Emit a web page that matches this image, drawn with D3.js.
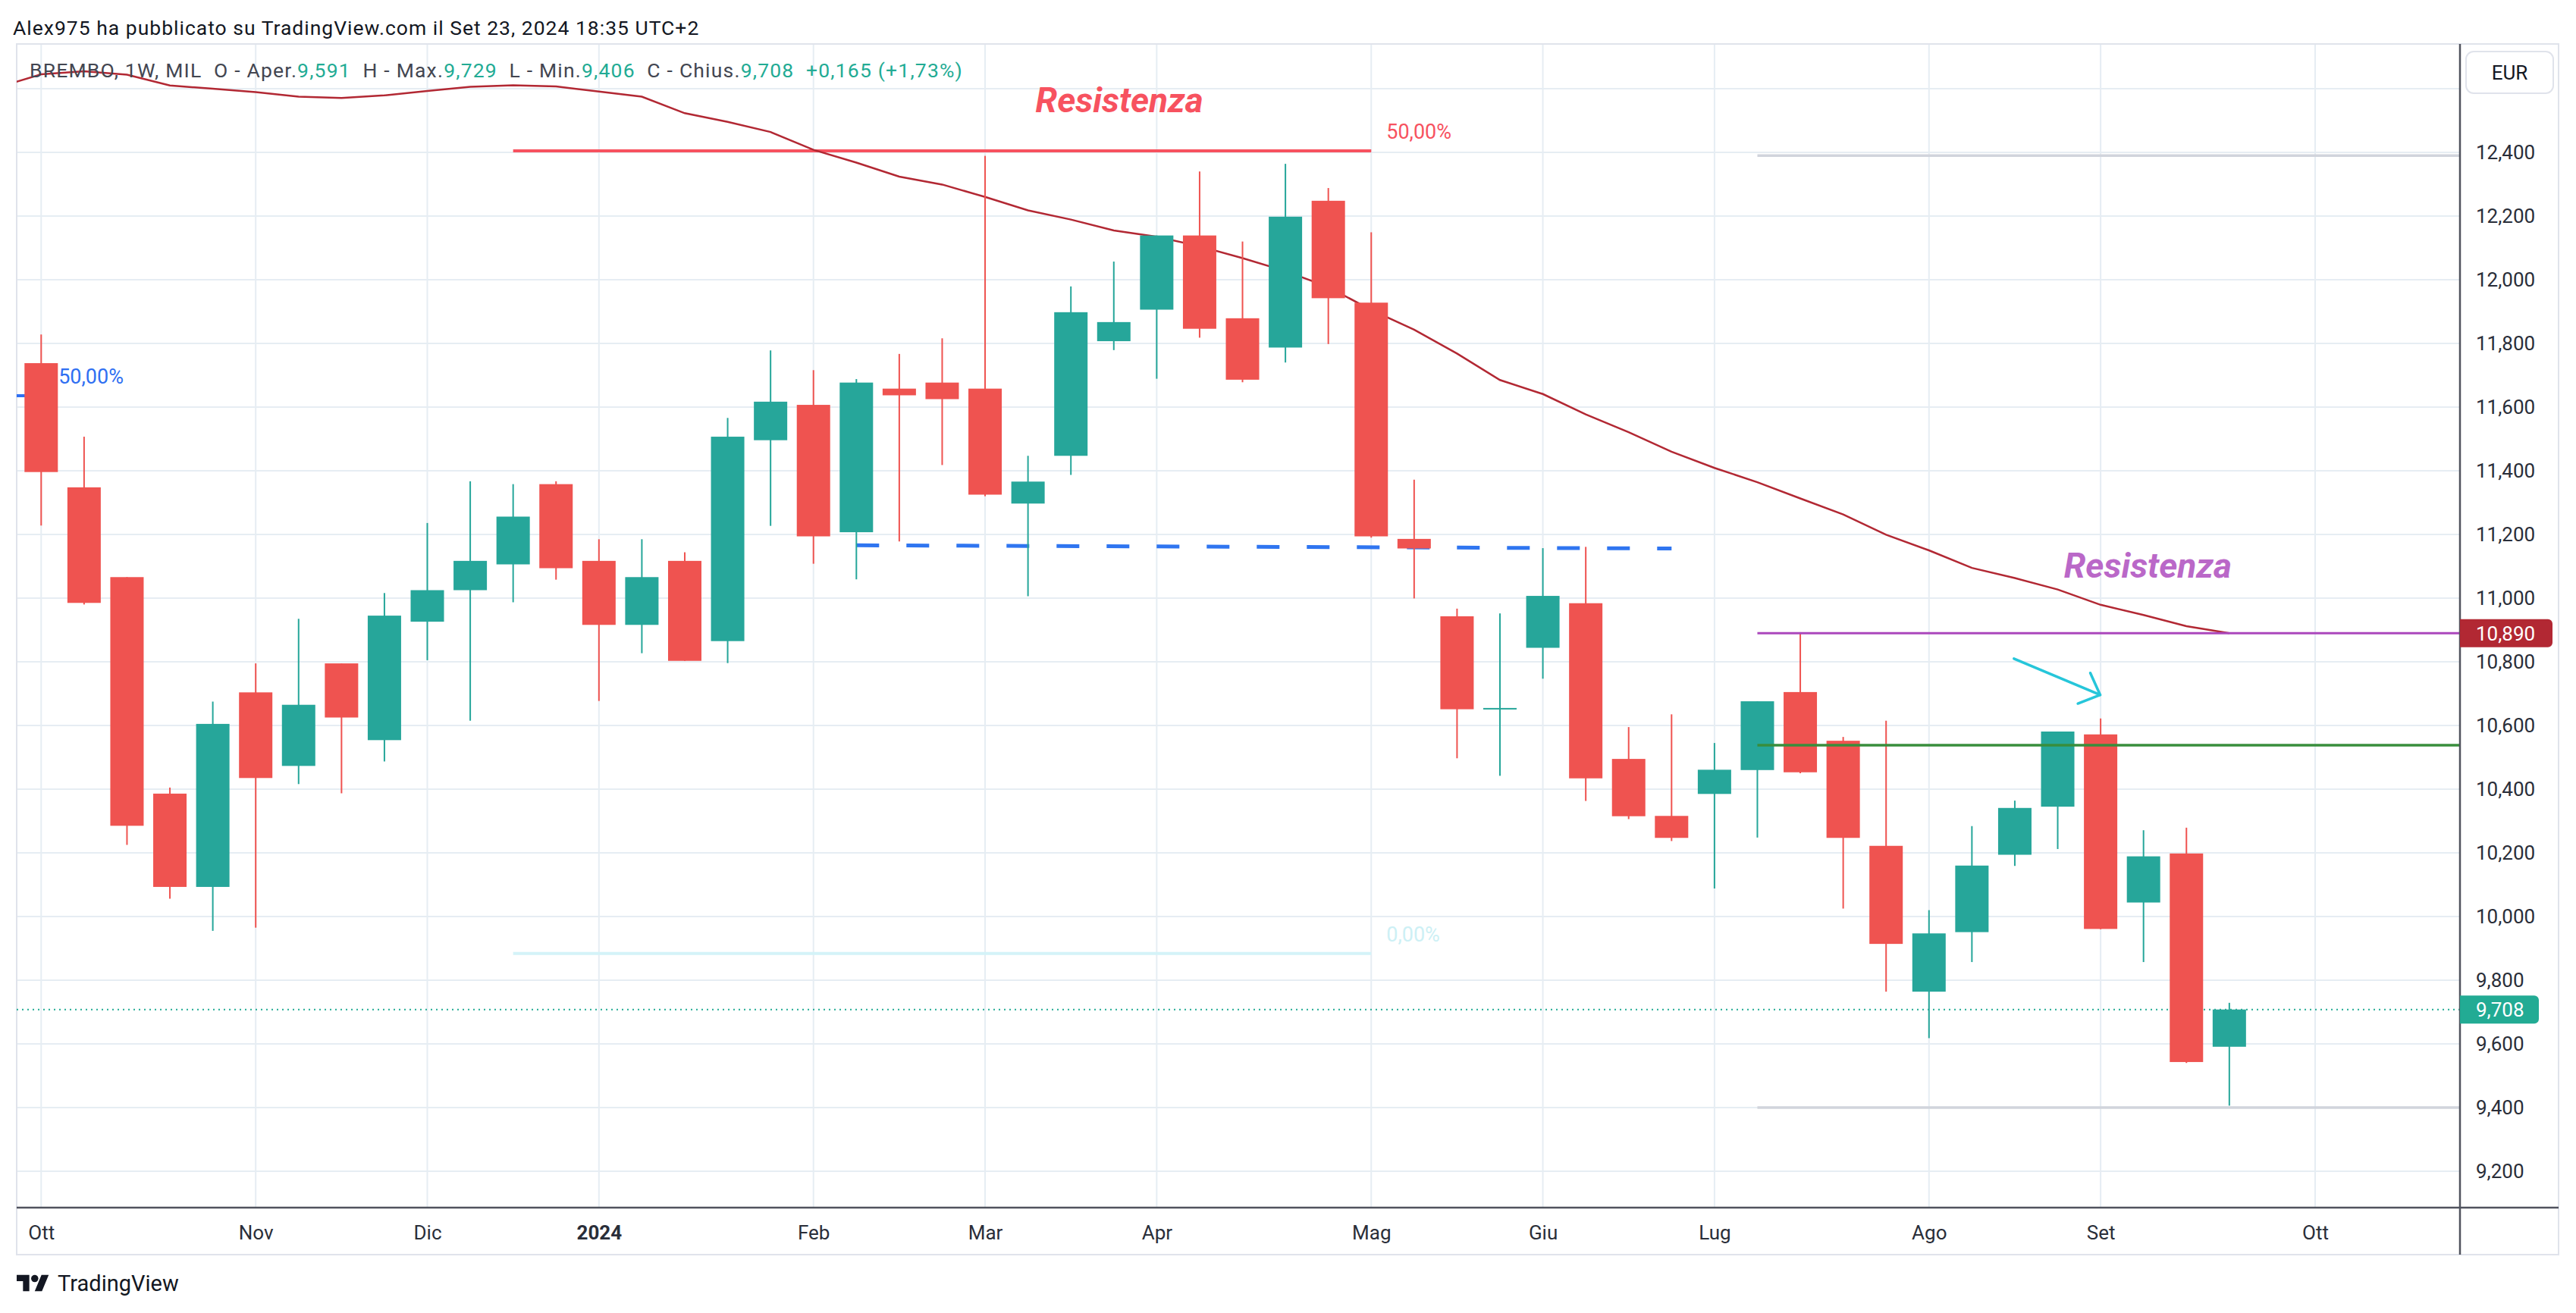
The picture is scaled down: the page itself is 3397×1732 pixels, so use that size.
<!DOCTYPE html>
<html lang="it">
<head>
<meta charset="utf-8">
<title>BREMBO 1W</title>
<style>
body { margin:0; background:#ffffff; }
text { font-family:Roboto,"Noto Sans",sans-serif; }
</style>
<script src="https://cdn.jsdelivr.net/npm/d3@7"></script>
</head>
<body>
<div id="chart"></div>
<script>
// weekly candles, Monday of each week
var weeks = ["2023-10-02","2023-10-09","2023-10-16","2023-10-23","2023-10-30","2023-11-06","2023-11-13","2023-11-20","2023-11-27",
    "2023-12-04","2023-12-11","2023-12-18","2023-12-25","2024-01-01","2024-01-08","2024-01-15","2024-01-22","2024-01-29",
    "2024-02-05","2024-02-12","2024-02-19","2024-02-26","2024-03-04","2024-03-11","2024-03-18","2024-03-25","2024-04-01",
    "2024-04-08","2024-04-15","2024-04-22","2024-04-29","2024-05-06","2024-05-13","2024-05-20","2024-05-27","2024-06-03",
    "2024-06-10","2024-06-17","2024-06-24","2024-07-01","2024-07-08","2024-07-15","2024-07-22","2024-07-29","2024-08-05",
    "2024-08-12","2024-08-19","2024-08-26","2024-09-02","2024-09-09","2024-09-16","2024-09-23"];
var open  = [11.738,11.348,11.066,10.386,10.093,10.704,10.473,10.795,10.554,10.926,11.025,11.106,11.358,11.117,10.916,11.117,
    10.865,11.496,11.607,11.207,11.658,11.677,11.658,11.297,11.447,11.807,11.906,12.139,11.879,11.787,12.248,11.928,11.186,
    10.943,10.651,10.844,10.984,10.495,10.316,10.385,10.460,10.705,10.552,10.222,9.764,9.951,10.194,10.345,10.572,10.044,10.198,9.591];
var high  = [11.828,11.507,11.066,10.405,10.675,10.795,10.935,10.795,11.016,11.236,11.367,11.358,11.367,11.185,11.185,11.144,
    11.566,11.778,11.716,11.688,11.767,11.816,12.389,11.447,11.979,12.057,12.139,12.340,12.120,12.364,12.288,12.149,11.372,
    10.967,10.952,11.157,11.161,10.595,10.635,10.545,10.676,10.893,10.564,10.615,10.020,10.284,10.364,10.581,10.622,10.271,10.279,9.729];
var low   = [11.228,10.980,10.225,10.056,9.955,9.965,10.416,10.387,10.487,10.805,10.615,10.987,11.058,10.677,10.827,10.803,
    10.796,11.227,11.108,11.059,11.178,11.418,11.320,11.006,11.387,11.779,11.689,11.818,11.678,11.740,11.798,11.190,10.999,
    10.497,10.442,10.747,10.363,10.306,10.237,10.088,10.248,10.450,10.025,9.764,9.618,9.857,10.159,10.212,9.960,9.857,9.540,9.406];
var close = [11.396,10.985,10.285,10.093,10.605,10.435,10.665,10.625,10.945,11.025,11.117,11.256,11.094,10.916,11.066,10.803,
    11.507,11.617,11.194,11.677,11.637,11.625,11.325,11.366,11.898,11.867,12.139,11.846,11.686,12.198,11.942,11.194,11.156,
    10.651,10.655,11.007,10.434,10.315,10.247,10.461,10.676,10.453,10.247,9.914,9.947,10.160,10.341,10.581,9.961,10.189,9.543,9.708];
// moving average, starts one week before the first candle
var ma = [12.605,12.645,12.655,12.644,12.610,12.600,12.589,12.575,12.571,12.579,12.593,12.606,12.611,12.607,12.591,12.575,
    12.523,12.496,12.464,12.408,12.368,12.324,12.299,12.260,12.218,12.189,12.155,12.135,12.105,12.068,12.027,11.977,11.905,
    11.843,11.768,11.685,11.641,11.577,11.521,11.460,11.409,11.364,11.313,11.263,11.199,11.150,11.095,11.063,11.027,10.979,
    10.947,10.912,10.890];

var priceTicks = [9.2,9.4,9.6,9.8,10.0,10.2,10.4,10.6,10.8,11.0,11.2,11.4,11.6,11.8,12.0,12.2,12.4];
var gridPrices = [9.2,9.4,9.6,9.8,10.0,10.2,10.4,10.6,10.8,11.0,11.2,11.4,11.6,11.8,12.0,12.2,12.4,12.6];
var monthIdx = [0,5,9,13,18,22,26,31,35,39,44,48,53];
var monthLabels = ["Ott","Nov","Dic","2024","Feb","Mar","Apr","Mag","Giu","Lug","Ago","Set","Ott"];

// drawings: [start bar, end bar, price]
var fibLeft = [-2, 0.05, 11.636];
var fibTop = [11, 31, 12.405];
var fibBottom = [11, 31, 9.884];
var dashedLevel = [[19, 11.166], [38, 11.156]];
var purpleLevel = [40, 10.890];
var greenLevel = [40, 10.538];
var rangeLevels = [40, 12.390, 9.400];
var arrowPts = [[45.98, 10.810], [47.99, 10.696]];
var arrowHead = [[47.76, 10.765], [47.99, 10.696], [47.47, 10.669]];
var lastPrice = 9.708, lastMa = 10.890;

var W = 3397, H = 1732;
var paneL = 22, paneR = 3244, paneT = 58, paneB = 1593, axisR = 3374, timeB = 1655;

var itLocale = d3.formatLocale({decimal:",", thousands:".", grouping:[3], currency:["","€"]});
var fmt = itLocale.format(".3f");
var fmt2 = itLocale.format(".2f");

var x = d3.scaleLinear().domain([0, 53]).range([54.3, 3053]);
var y = d3.scaleLinear().domain([9.2, 12.4]).range([1545, 201]);

var svg = d3.select("#chart").append("svg")
    .attr("width", W)
    .attr("height", H);

svg.append("rect").attr("width", W).attr("height", H).attr("fill", "#ffffff");

svg.append("clipPath").attr("id", "pane")
  .append("rect")
    .attr("x", paneL).attr("y", paneT)
    .attr("width", paneR - paneL).attr("height", paneB - paneT);

// header text
svg.append("text")
    .attr("x", 17).attr("y", 46)
    .attr("font-size", 26.5).attr("fill", "#131722")
    .attr("letter-spacing", 1.0)
    .text("Alex975 ha pubblicato su TradingView.com il Set 23, 2024 18:35 UTC+2");

// grid
var grid = svg.append("g").attr("clip-path", "url(#pane)");
grid.selectAll("line.h")
    .data(gridPrices)
    .enter().append("line")
        .attr("x1", paneL).attr("x2", paneR)
        .attr("y1", function(d) { return y(d); })
        .attr("y2", function(d) { return y(d); })
        .attr("stroke", "#e6edf3").attr("stroke-width", 2);
grid.selectAll("line.v")
    .data(monthIdx)
    .enter().append("line")
        .attr("x1", function(d) { return x(d); })
        .attr("x2", function(d) { return x(d); })
        .attr("y1", paneT).attr("y2", paneB)
        .attr("stroke", "#e6edf3").attr("stroke-width", 2);

// frame
svg.append("rect")
    .attr("x", paneL).attr("y", paneT)
    .attr("width", axisR - paneL).attr("height", timeB - paneT)
    .attr("fill", "none").attr("stroke", "#e0e3eb").attr("stroke-width", 2);

var pane = svg.append("g").attr("clip-path", "url(#pane)");

// last price dotted line
pane.append("line")
    .attr("x1", paneL).attr("x2", paneR)
    .attr("y1", y(lastPrice)).attr("y2", y(lastPrice))
    .attr("stroke", "#22ab94").attr("stroke-width", 2)
    .attr("stroke-dasharray", "2 5");

// range lines on the right
rangeLevels.slice(1).forEach(function(p) {
    pane.append("line")
        .attr("x1", x(rangeLevels[0])).attr("x2", paneR)
        .attr("y1", y(p)).attr("y2", y(p))
        .attr("stroke", "#d1d4dc").attr("stroke-width", 3.5);
});

// fib drawings
pane.append("line")
    .attr("x1", x(fibTop[0])).attr("x2", x(fibTop[1]))
    .attr("y1", y(fibTop[2])).attr("y2", y(fibTop[2]))
    .attr("stroke", "#f7525f").attr("stroke-width", 4);
pane.append("line")
    .attr("x1", x(fibBottom[0])).attr("x2", x(fibBottom[1]))
    .attr("y1", y(fibBottom[2])).attr("y2", y(fibBottom[2]))
    .attr("stroke", "#d4f3f8").attr("stroke-width", 4);
pane.append("text")
    .attr("x", x(fibTop[1]) + 20).attr("y", y(fibTop[2]) - 16)
    .attr("font-size", 27).attr("fill", "#f7525f")
    .text("50,00%");
pane.append("text")
    .attr("x", x(fibBottom[1]) + 20).attr("y", y(fibBottom[2]) - 16)
    .attr("font-size", 27).attr("fill", "#cdf0f5")
    .text("0,00%");
pane.append("line")
    .attr("x1", x(fibLeft[0])).attr("x2", x(fibLeft[1]))
    .attr("y1", y(fibLeft[2])).attr("y2", y(fibLeft[2]))
    .attr("stroke", "#2f6ff2").attr("stroke-width", 4);
pane.append("text")
    .attr("x", x(fibLeft[1]) + 20).attr("y", y(fibLeft[2]) - 16)
    .attr("font-size", 27).attr("fill", "#2f6ff2")
    .text("50,00%");

// dashed blue level
pane.append("line")
    .attr("x1", x(dashedLevel[0][0])).attr("x2", x(dashedLevel[1][0]))
    .attr("y1", y(dashedLevel[0][1])).attr("y2", y(dashedLevel[1][1]))
    .attr("stroke", "#2f75f0").attr("stroke-width", 5)
    .attr("stroke-dasharray", "30 36");

// moving average
var maLine = d3.line()
    .x(function(d, i) { return x(i - 1); })
    .y(function(d) { return y(d); });
pane.append("path")
    .datum(ma)
    .attr("d", maLine)
    .attr("fill", "none").attr("stroke", "#b22833").attr("stroke-width", 2.5);

// candles
var bars = weeks.map(function(d, i) {
    return {date:d, o:open[i], h:high[i], l:low[i], c:close[i], i:i};
});
var up = "#26a69a", down = "#ef5350";
var candle = pane.selectAll("g.candle")
    .data(bars)
    .enter().append("g");
candle.append("rect")
    .attr("x", function(d) { return x(d.i) - 1; })
    .attr("width", 2)
    .attr("y", function(d) { return y(d.h); })
    .attr("height", function(d) { return y(d.l) - y(d.h); })
    .attr("fill", function(d) { return d.c >= d.o ? up : down; });
candle.append("rect")
    .attr("x", function(d) { return x(d.i) - 22; })
    .attr("width", 44)
    .attr("y", function(d) { return y(Math.max(d.o, d.c)); })
    .attr("height", function(d) { return Math.max(2, Math.abs(y(d.o) - y(d.c))); })
    .attr("fill", function(d) { return d.c >= d.o ? up : down; });

// horizontal levels on the right
pane.append("line")
    .attr("x1", x(purpleLevel[0])).attr("x2", paneR)
    .attr("y1", y(purpleLevel[1])).attr("y2", y(purpleLevel[1]))
    .attr("stroke", "#ab47bc").attr("stroke-width", 3);
pane.append("line")
    .attr("x1", x(greenLevel[0])).attr("x2", paneR)
    .attr("y1", y(greenLevel[1])).attr("y2", y(greenLevel[1]))
    .attr("stroke", "#388e3c").attr("stroke-width", 3.5);

// arrow
pane.append("path")
    .attr("d", d3.line()(arrowPts.map(function(p) { return [x(p[0]), y(p[1])]; })))
    .attr("fill", "none").attr("stroke", "#26c6da").attr("stroke-width", 3.5).attr("stroke-linecap", "round");
pane.append("path")
    .attr("d", d3.line()(arrowHead.map(function(p) { return [x(p[0]), y(p[1])]; })))
    .attr("fill", "none").attr("stroke", "#26c6da").attr("stroke-width", 3.5)
    .attr("stroke-linecap", "round").attr("stroke-linejoin", "round");

// text notes
pane.append("text")
    .attr("x", x(25.13)).attr("y", y(12.526))
    .attr("text-anchor", "middle")
    .attr("font-size", 46).attr("font-weight", "bold").attr("font-style", "italic")
    .attr("fill", "#f7525f")
    .text("Resistenza");
pane.append("text")
    .attr("x", x(49.1)).attr("y", y(11.064))
    .attr("text-anchor", "middle")
    .attr("font-size", 46).attr("font-weight", "bold").attr("font-style", "italic")
    .attr("fill", "#ba68c8")
    .text("Resistenza");

// legend
var legend = svg.append("text")
    .attr("x", 39).attr("y", 102)
    .attr("font-size", 26.5).attr("fill", "#434651")
    .attr("letter-spacing", 1.2)
    .attr("xml:space", "preserve");
var parts = [["BREMBO, 1W, MIL  O - Aper.", "#434651"], [fmt(open[51]), "#22ab94"],
             ["  H - Max.", "#434651"], [fmt(high[51]), "#22ab94"],
             ["  L - Min.", "#434651"], [fmt(low[51]), "#22ab94"],
             ["  C - Chius.", "#434651"], [fmt(close[51]), "#22ab94"],
             ["  +" + fmt(close[51] - close[50]) + " (+" + fmt2((close[51] - close[50]) / close[50] * 100) + "%)", "#22ab94"]];
legend.selectAll("tspan")
    .data(parts)
    .enter().append("tspan")
        .attr("fill", function(d) { return d[1]; })
        .text(function(d) { return d[0]; });

// price axis
svg.append("line")
    .attr("x1", paneR).attr("x2", paneR).attr("y1", paneT).attr("y2", timeB)
    .attr("stroke", "#50535e").attr("stroke-width", 2.5);
var yAxis = d3.axisRight(y)
    .tickValues(priceTicks)
    .tickSize(0)
    .tickPadding(21)
    .tickFormat(fmt);
var yg = svg.append("g")
    .attr("transform", "translate(" + paneR + ",0)")
    .call(yAxis);
yg.select(".domain").remove();
yg.selectAll("text")
    .attr("font-size", 26).attr("fill", "#2a2e39")
    .style("font-family", "Roboto,sans-serif");

// tags on price axis
function tag(v, color, w) {
    svg.append("path")
        .attr("d", "M" + paneR + "," + (y(v) - 18.5) + "h" + (w - 6) + "a6,6 0 0 1 6,6v25a6,6 0 0 1 -6,6h" + (-(w - 6)) + "z")
        .attr("fill", color);
    svg.append("text")
        .attr("x", paneR + 21).attr("y", y(v) + 9.5)
        .attr("font-size", 26).attr("fill", "#ffffff")
        .text(fmt(v));
}
tag(lastMa, "#b22833", 122);
tag(lastPrice, "#22ab94", 104);

// EUR box
svg.append("rect")
    .attr("x", 3252).attr("y", 68).attr("width", 115).attr("height", 55).attr("rx", 10)
    .attr("fill", "#ffffff").attr("stroke", "#e0e3eb").attr("stroke-width", 2);
svg.append("text")
    .attr("x", 3309.5).attr("y", 105).attr("text-anchor", "middle")
    .attr("font-size", 26).attr("fill", "#131722")
    .text("EUR");

// time axis
svg.append("line")
    .attr("x1", paneL).attr("x2", axisR).attr("y1", paneB).attr("y2", paneB)
    .attr("stroke", "#50535e").attr("stroke-width", 2.5);
var xAxis = d3.axisBottom(x)
    .tickValues(monthIdx)
    .tickSize(0)
    .tickPadding(24)
    .tickFormat(function(d, i) { return monthLabels[i]; });
var xg = svg.append("g")
    .attr("transform", "translate(0," + paneB + ")")
    .call(xAxis);
xg.select(".domain").remove();
xg.selectAll("text")
    .attr("font-size", 26).attr("fill", "#2a2e39")
    .style("font-family", "Roboto,sans-serif")
    .attr("font-weight", function(d, i) { return monthLabels[i] === "2024" ? "bold" : "normal"; });

// TradingView logo
var logo = svg.append("g").attr("transform", "translate(22,1677) scale(1.19)").attr("fill", "#131722");
logo.append("path").attr("d", "M14 22H7V11H0V4h14v18zM28 22h-8l7.5-18h8L28 22z");
logo.append("circle").attr("cx", 20).attr("cy", 8).attr("r", 4);
svg.append("text")
    .attr("x", 76).attr("y", 1703)
    .attr("font-size", 29).attr("fill", "#131722")
    .text("TradingView");
</script>
</body>
</html>
